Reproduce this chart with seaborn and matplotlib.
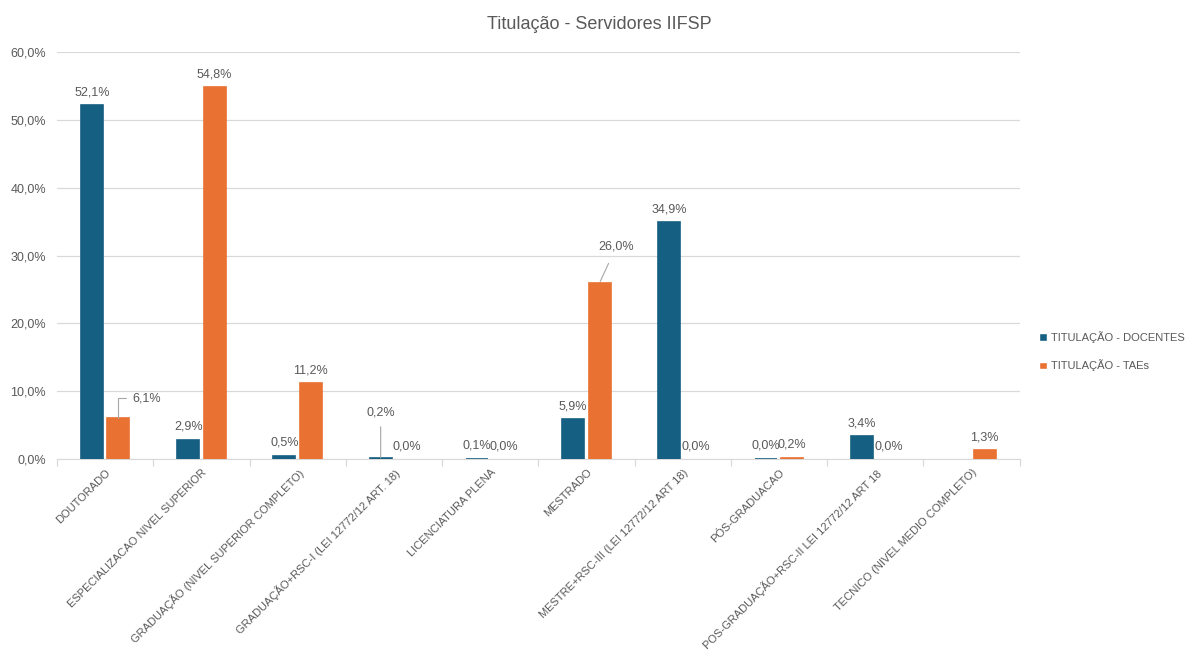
import numpy as np
import pandas as pd
import seaborn as sns
import matplotlib.pyplot as plt
from matplotlib.ticker import FuncFormatter, FixedLocator

categorias = [
    'DOUTORADO',
    'ESPECIALIZACAO NIVEL SUPERIOR',
    'GRADUAÇÃO (NIVEL SUPERIOR COMPLETO)',
    'GRADUAÇÃO+RSC-I (LEI 12772/12 ART. 18)',
    'LICENCIATURA PLENA',
    'MESTRADO',
    'MESTRE+RSC-III (LEI 12772/12 ART 18)',
    'PÓS-GRADUACAO',
    'POS-GRADUAÇÃO+RSC-II LEI 12772/12 ART 18',
    'TECNICO (NIVEL MEDIO COMPLETO)',
]
docentes = [52.1, 2.9, 0.5, 0.2, 0.1, 5.9, 34.9, 0.04, 3.4, np.nan]
taes = [6.1, 54.8, 11.2, 0.0, 0.0, 26.0, 0.0, 0.2, 0.0, 1.3]
series = ['TITULAÇÃO - DOCENTES', 'TITULAÇÃO - TAEs']
cores = ['#156082', '#E97132']

df = pd.DataFrame({
    'cat': categorias * 2,
    'serie': [series[0]] * len(categorias) + [series[1]] * len(categorias),
    'valor': docentes + taes,
})

sns.set_style('white')
plt.rcParams['font.family'] = ['Liberation Sans', 'DejaVu Sans']

fig = plt.figure(figsize=(11.87, 6.56), dpi=100)
ax = fig.add_axes([0.048, 0.300, 0.811, 0.621])

sns.barplot(data=df, x='cat', y='valor', hue='serie', palette=cores, saturation=1,
            width=0.55, gap=0.17, ax=ax, errorbar=None, legend=True)

# barras muito pequenas ficam visiveis com borda da mesma cor, acima do eixo
for p in ax.patches:
    if p.get_height() > 0:
        p.set_edgecolor(p.get_facecolor())
        p.set_linewidth(1.2)
        p.set_zorder(3)

cinza = '#595959'
linha = '#a6a6a6'

# rotulos de dados
for s, cont in enumerate(ax.containers):
    vals = docentes if s == 0 else taes
    for i, (bar, v) in enumerate(zip(cont, vals)):
        if np.isnan(v):
            continue
        x = bar.get_x() + bar.get_width() / 2
        txt = f'{v:.1f}%'.replace('.', ',')
        if (s, i) == (1, 0):
            ax.annotate(txt, xy=(x, v), xytext=(10, 14), textcoords='offset points',
                        ha='left', va='center', fontsize=9, color=cinza,
                        arrowprops=dict(arrowstyle='-', color=linha, lw=0.8, shrinkA=2, shrinkB=0,
                                        connectionstyle='angle,angleA=0,angleB=90,rad=0'))
        elif (s, i) == (0, 3):
            ax.annotate(txt, xy=(x, v), xytext=(0, 33), textcoords='offset points',
                        ha='center', va='center', fontsize=9, color=cinza,
                        arrowprops=dict(arrowstyle='-', color=linha, lw=0.8, shrinkA=4, shrinkB=0))
        elif (s, i) == (1, 5):
            ax.annotate(txt, xy=(x, v), xytext=(12, 26), textcoords='offset points',
                        ha='center', va='center', fontsize=9, color=cinza,
                        arrowprops=dict(arrowstyle='-', color=linha, lw=0.8, shrinkA=6, shrinkB=1))
        else:
            ax.annotate(txt, xy=(x, v), xytext=(0, 5), textcoords='offset points',
                        ha='center', va='bottom', fontsize=9, color=cinza)

ax.set_ylim(0, 60)
ax.set_xlim(-0.5, len(categorias) - 0.5)
ax.set_yticks(np.arange(0, 61, 10))
ax.yaxis.set_major_formatter(FuncFormatter(lambda v, p: f'{v:.1f}%'.replace('.', ',')))
ax.grid(axis='y', color='#d9d9d9', lw=0.9)
ax.set_axisbelow(True)
ax.set_xlabel('')
ax.set_ylabel('')

ax.set_xticks(range(len(categorias)))
ax.set_xticklabels(categorias, rotation=45, ha='right', rotation_mode='anchor',
                   fontsize=8, color=cinza)
ax.xaxis.set_minor_locator(FixedLocator(np.arange(-0.5, len(categorias), 1)))
ax.tick_params(axis='x', which='major', bottom=True, length=0, pad=6)
ax.tick_params(axis='x', which='minor', bottom=True, length=5, color='#d9d9d9', width=0.9)
ax.tick_params(axis='y', length=0, labelsize=9, labelcolor=cinza, pad=8)

for sp in ['top', 'right', 'left']:
    ax.spines[sp].set_visible(False)
ax.spines['bottom'].set_color('#d9d9d9')

fig.suptitle('Titulação - Servidores IIFSP', x=0.505, y=0.975, fontsize=13, color=cinza)

ax.legend(loc='center left', bbox_to_anchor=(1.01, 0.265), frameon=False, fontsize=8,
          handlelength=0.7, handleheight=0.7, handletextpad=0.4, labelspacing=1.5,
          labelcolor=cinza)

fig.savefig('out.png', dpi=100)
